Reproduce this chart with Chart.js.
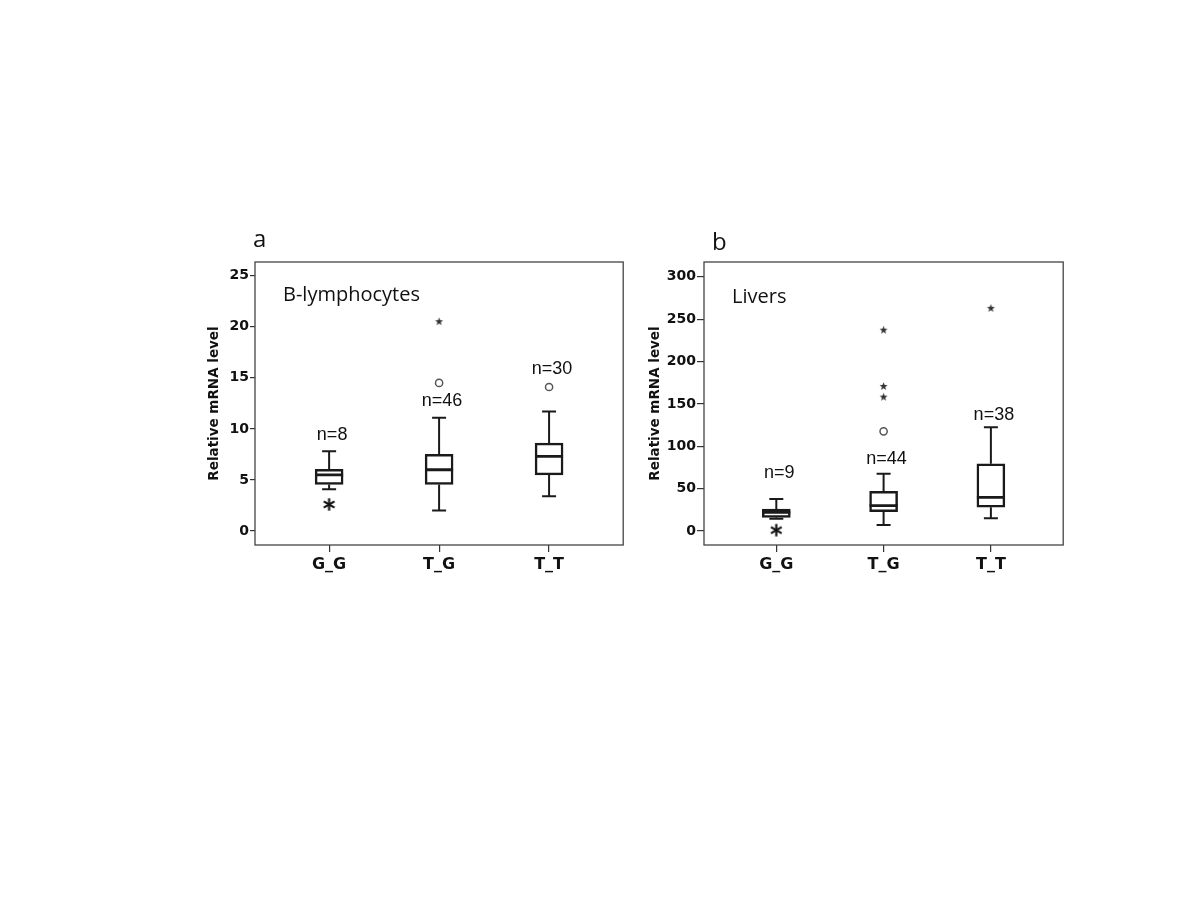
<!DOCTYPE html>
<html><head><meta charset="utf-8">
<script src="https://cdn.jsdelivr.net/npm/chart.js@4.4.1/dist/chart.umd.min.js"></script>
<style>
html,body{margin:0;padding:0;background:#fff;}
body{width:1200px;height:900px;position:relative;overflow:hidden;}
.wrap{position:absolute;top:220px;width:450px;height:370px;}
</style></head><body>
<div class="wrap" style="left:190px"><canvas id="ca" width="450" height="370"></canvas></div>
<div class="wrap" style="left:630px"><canvas id="cb" width="450" height="370"></canvas></div>
<script>
// ---------- data ----------
const categories = ['G_G', 'T_G', 'T_T'];

// Panel a: B-lymphocytes
const aN      = [8, 46, 30];
const aMin    = [4.1, 2.0, 3.4];
const aQ1     = [4.55, 4.55, 5.5];
const aMedian = [5.5, 6.0, 7.3];
const aQ3     = [6.05, 7.5, 8.6];
const aMax    = [7.8, 11.1, 11.7];
const aCircleCat = ['T_G', 'T_T'];
const aCircleVal = [14.5, 14.1];
const aStarCat   = ['T_G'];
const aStarVal   = [20.5];
const aBoldStarCat = ['G_G'];
const aBoldStarVal = [2.6];
const aNLabelAt  = [9.4, 12.7, 15.9];
const aTicks = [0, 5, 10, 15, 20, 25];

// Panel b: Livers
const bN      = [9, 44, 38];
const bMin    = [14.5, 7, 15];
const bQ1     = [16, 22.8, 28];
const bMedian = [22, 30, 39.7];
const bQ3     = [26, 46.8, 79.4];
const bMax    = [37.7, 67.6, 122.3];
const bCircleCat = ['T_G'];
const bCircleVal = [117.6];
const bStarCat   = ['T_G', 'T_G', 'T_G', 'T_T'];
const bStarVal   = [237, 170.6, 158, 262.7];
const bBoldStarCat = ['G_G'];
const bBoldStarVal = [1];
const bNLabelAt  = [68, 84.5, 136.8];
const bTicks = [0, 50, 100, 150, 200, 250, 300];

// ---------- marker images ----------
function makeStar(r, color) {
  const s = Math.ceil(r * 2 + 2);
  const c = document.createElement('canvas'); c.width = c.height = s;
  const g = c.getContext('2d'); g.translate(s / 2, s / 2);
  g.beginPath();
  for (let k = 0; k < 10; k++) {
    const rad = k % 2 ? r * 0.42 : r;
    const ang = -Math.PI / 2 + k * Math.PI / 5;
    g.lineTo(Math.cos(ang) * rad, Math.sin(ang) * rad);
  }
  g.closePath(); g.fillStyle = color; g.fill();
  return c;
}
function makeAsterisk(r, lw, color) {
  const s = Math.ceil(r * 2 + lw + 2);
  const c = document.createElement('canvas'); c.width = c.height = s;
  const g = c.getContext('2d'); g.translate(s / 2, s / 2);
  g.strokeStyle = color; g.lineWidth = lw; g.lineCap = 'butt';
  [90, 30, 150].forEach(d => {
    const a = d * Math.PI / 180;
    g.beginPath(); g.moveTo(Math.cos(a) * r, Math.sin(a) * r); g.lineTo(-Math.cos(a) * r, -Math.sin(a) * r); g.stroke();
  });
  return c;
}
const smallStar = makeStar(4.2, '#333');
const boldStar = makeAsterisk(6.2, 2.2, '#111');

// ---------- plugin for frame and text ----------
const annotate = {
  id: 'annotate',
  afterDraw(chart, args, o) {
    const { ctx, chartArea: a, scales: { x, y } } = chart;
    ctx.save();
    ctx.strokeStyle = '#444'; ctx.lineWidth = 1.3;
    ctx.strokeRect(a.left, a.top, a.right - a.left, a.bottom - a.top);
    ctx.fillStyle = '#111'; ctx.textBaseline = 'middle'; ctx.textAlign = 'left';
    ctx.font = '24px "Open Sans"';
    ctx.fillText(o.letter, a.left + o.letterDx, a.top + o.letterDy);
    ctx.font = '20px "Open Sans"';
    ctx.fillText(o.tissue, a.left + o.tissueDx, a.top + o.tissueDy);
    ctx.font = '18px "Liberation Sans"'; ctx.textAlign = 'center';
    o.n.forEach((n, i) => {
      ctx.fillText('n=' + n, x.getPixelForValue(i + 1) + 3, y.getPixelForValue(o.nAt[i]));
    });
    ctx.restore();
  }
};

const ink = '#1a1a1a';
const catX = c => categories.indexOf(c) + 1;

function makeChart(id, d) {
  const whisk = [];
  const caps = [];
  categories.forEach((c, i) => {
    whisk.push({ x: i + 1, y: d.q3[i] }, { x: i + 1, y: d.max[i] }, { x: i + 1, y: null },
               { x: i + 1, y: d.q1[i] }, { x: i + 1, y: d.min[i] }, { x: i + 1, y: null });
    caps.push({ x: i + 1, y: d.max[i] }, { x: i + 1, y: d.min[i] });
  });
  return new Chart(document.getElementById(id), {
    type: 'bar',
    data: {
      datasets: [
        { type: 'bar', data: categories.map((c, i) => ({ x: i + 1, y: [d.q1[i], d.q3[i]] })),
          backgroundColor: '#fff', borderColor: ink, borderWidth: 2.5, borderSkipped: false,
          barThickness: 28, order: 3 },
        { type: 'line', data: whisk, borderColor: ink, borderWidth: 2, pointRadius: 0,
          spanGaps: false, fill: false, order: 2 },
        { type: 'scatter', data: caps, pointStyle: 'line', pointRadius: 7, borderColor: ink,
          borderWidth: 2, order: 1 },
        { type: 'scatter', data: categories.map((c, i) => ({ x: i + 1, y: d.med[i] })),
          pointStyle: 'line', pointRadius: 14, borderColor: ink, borderWidth: 2.8, order: 1 },
        { type: 'scatter', data: d.circCat.map((c, i) => ({ x: catX(c), y: d.circVal[i] })),
          pointStyle: 'circle', pointRadius: 3.6, borderColor: '#555', borderWidth: 1.5,
          backgroundColor: '#fff', order: 1 },
        { type: 'scatter', data: d.starCat.map((c, i) => ({ x: catX(c), y: d.starVal[i] })),
          pointStyle: smallStar, order: 1 },
        { type: 'scatter', data: d.boldCat.map((c, i) => ({ x: catX(c), y: d.boldVal[i] })),
          pointStyle: boldStar, order: 1 }
      ]
    },
    options: {
      responsive: false, animation: false,
      layout: { padding: { top: 42, right: 16, left: 0, bottom: 0 } },
      plugins: { legend: { display: false }, tooltip: { enabled: false }, annotate: d.ann },
      scales: {
        x: {
          type: 'linear', min: 0.326, max: 3.674, offset: false,
          afterBuildTicks: s => { s.ticks = categories.map((c, i) => ({ value: i + 1 })); },
          afterFit: s => { s.height = 45; },
          ticks: { callback: v => categories[Math.round(v) - 1], autoSkip: false, maxRotation: 0,
                   font: { family: 'DejaVu Sans', weight: 'bold', size: 16 }, color: '#111', padding: 3 },
          grid: { display: true, drawOnChartArea: false, drawTicks: true, tickLength: 7, offset: false,
                  color: '#333', lineWidth: 1.2 },
          border: { display: false }
        },
        y: {
          type: 'linear', min: d.yMin, max: d.yMax,
          afterBuildTicks: s => { s.ticks = d.ticks.map(v => ({ value: v })); },
          afterFit: s => { s.width = d.axisW; },
          ticks: { font: { family: 'DejaVu Sans', weight: 'bold', size: 14 }, color: '#111', padding: 1 },
          grid: { display: true, drawOnChartArea: false, drawTicks: true, tickLength: d.tickLen,
                  color: '#333', lineWidth: 1.2 },
          border: { display: false },
          title: { display: true, text: 'Relative mRNA level', color: '#111',
                   font: { family: 'DejaVu Sans', weight: 'bold', size: 13.5 },
                   padding: { top: d.titlePad, bottom: 0 } }
        }
      }
    },
    plugins: [annotate]
  });
}

makeChart('ca', {
  q1: aQ1, q3: aQ3, med: aMedian, min: aMin, max: aMax,
  circCat: aCircleCat, circVal: aCircleVal, starCat: aStarCat, starVal: aStarVal,
  boldCat: aBoldStarCat, boldVal: aBoldStarVal,
  yMin: -1.37, yMax: 26.34, ticks: aTicks, axisW: 65, tickLen: 5, titlePad: 16,
  ann: { letter: 'a', letterDx: -2, letterDy: -22, tissue: 'B-lymphocytes', tissueDx: 28, tissueDy: 33,
         n: aN, nAt: aNLabelAt }
});
makeChart('cb', {
  q1: bQ1, q3: bQ3, med: bMedian, min: bMin, max: bMax,
  circCat: bCircleCat, circVal: bCircleVal, starCat: bStarCat, starVal: bStarVal,
  boldCat: bBoldStarCat, boldVal: bBoldStarVal,
  yMin: -16.5, yMax: 317.4, ticks: bTicks, axisW: 74, tickLen: 7, titlePad: 17,
  ann: { letter: 'b', letterDx: 8, letterDy: -19, tissue: 'Livers', tissueDx: 28, tissueDy: 35,
         n: bN, nAt: bNLabelAt }
});
</script>
</body></html>
